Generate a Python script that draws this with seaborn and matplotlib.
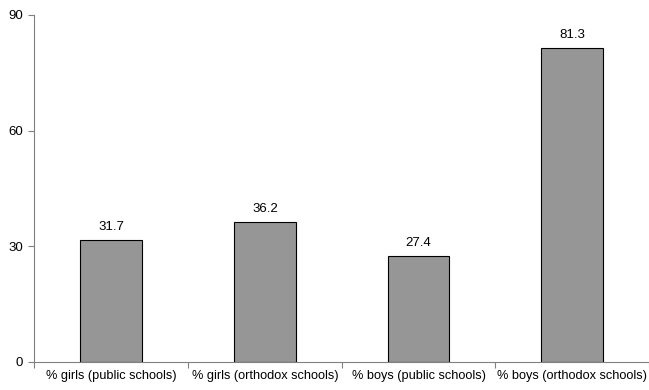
import matplotlib
matplotlib.use("Agg")
import matplotlib.pyplot as plt
from matplotlib.ticker import FixedLocator
import seaborn as sns
import pandas as pd

categories = ["% girls (public schools)", "% girls (orthodox schools)",
              "% boys (public schools)", "% boys (orthodox schools)"]
values = [31.7, 36.2, 27.4, 81.3]
y_ticks = [0, 30, 60, 90]

sns.set_style("white")
plt.rcParams["font.family"] = ["Liberation Sans", "DejaVu Sans"]
plt.rcParams["text.color"] = "black"
plt.rcParams["xtick.color"] = "black"
plt.rcParams["ytick.color"] = "black"

df = pd.DataFrame({"category": categories, "value": values})

fig = plt.figure(figsize=(6.49, 3.90), dpi=100)
ax = fig.add_axes([0.053, 0.072, 0.947, 0.89])

sns.barplot(data=df, x="category", y="value", ax=ax, color="#969696",
            saturation=1, width=0.4, edgecolor="black", linewidth=0.8)

for c in ax.containers:
    ax.bar_label(c, labels=[f"{v:.1f}" for v in values], padding=5,
                 fontsize=9.5, color="black")

ax.set_xlim(-0.5, len(categories) - 0.5)
ax.set_ylim(0, 90)
ax.set_yticks(y_ticks)
ax.set_xlabel("")
ax.set_ylabel("")

ax.xaxis.set_minor_locator(FixedLocator([i - 0.5 for i in range(len(categories) + 1)]))
ax.tick_params(axis="x", which="major", bottom=True, length=0, labelsize=9.2,
               pad=6, labelcolor="black")
ax.tick_params(axis="x", which="minor", bottom=True, length=4, width=0.8,
               color="#808080", direction="out")
ax.tick_params(axis="y", left=True, length=4, width=0.8, color="#808080",
               direction="out", labelsize=9.5, pad=4, labelcolor="black")

for side in ["top", "right"]:
    ax.spines[side].set_visible(False)
for side in ["left", "bottom"]:
    ax.spines[side].set_color("#808080")
    ax.spines[side].set_linewidth(0.8)

fig.savefig("out.png", dpi=100)
